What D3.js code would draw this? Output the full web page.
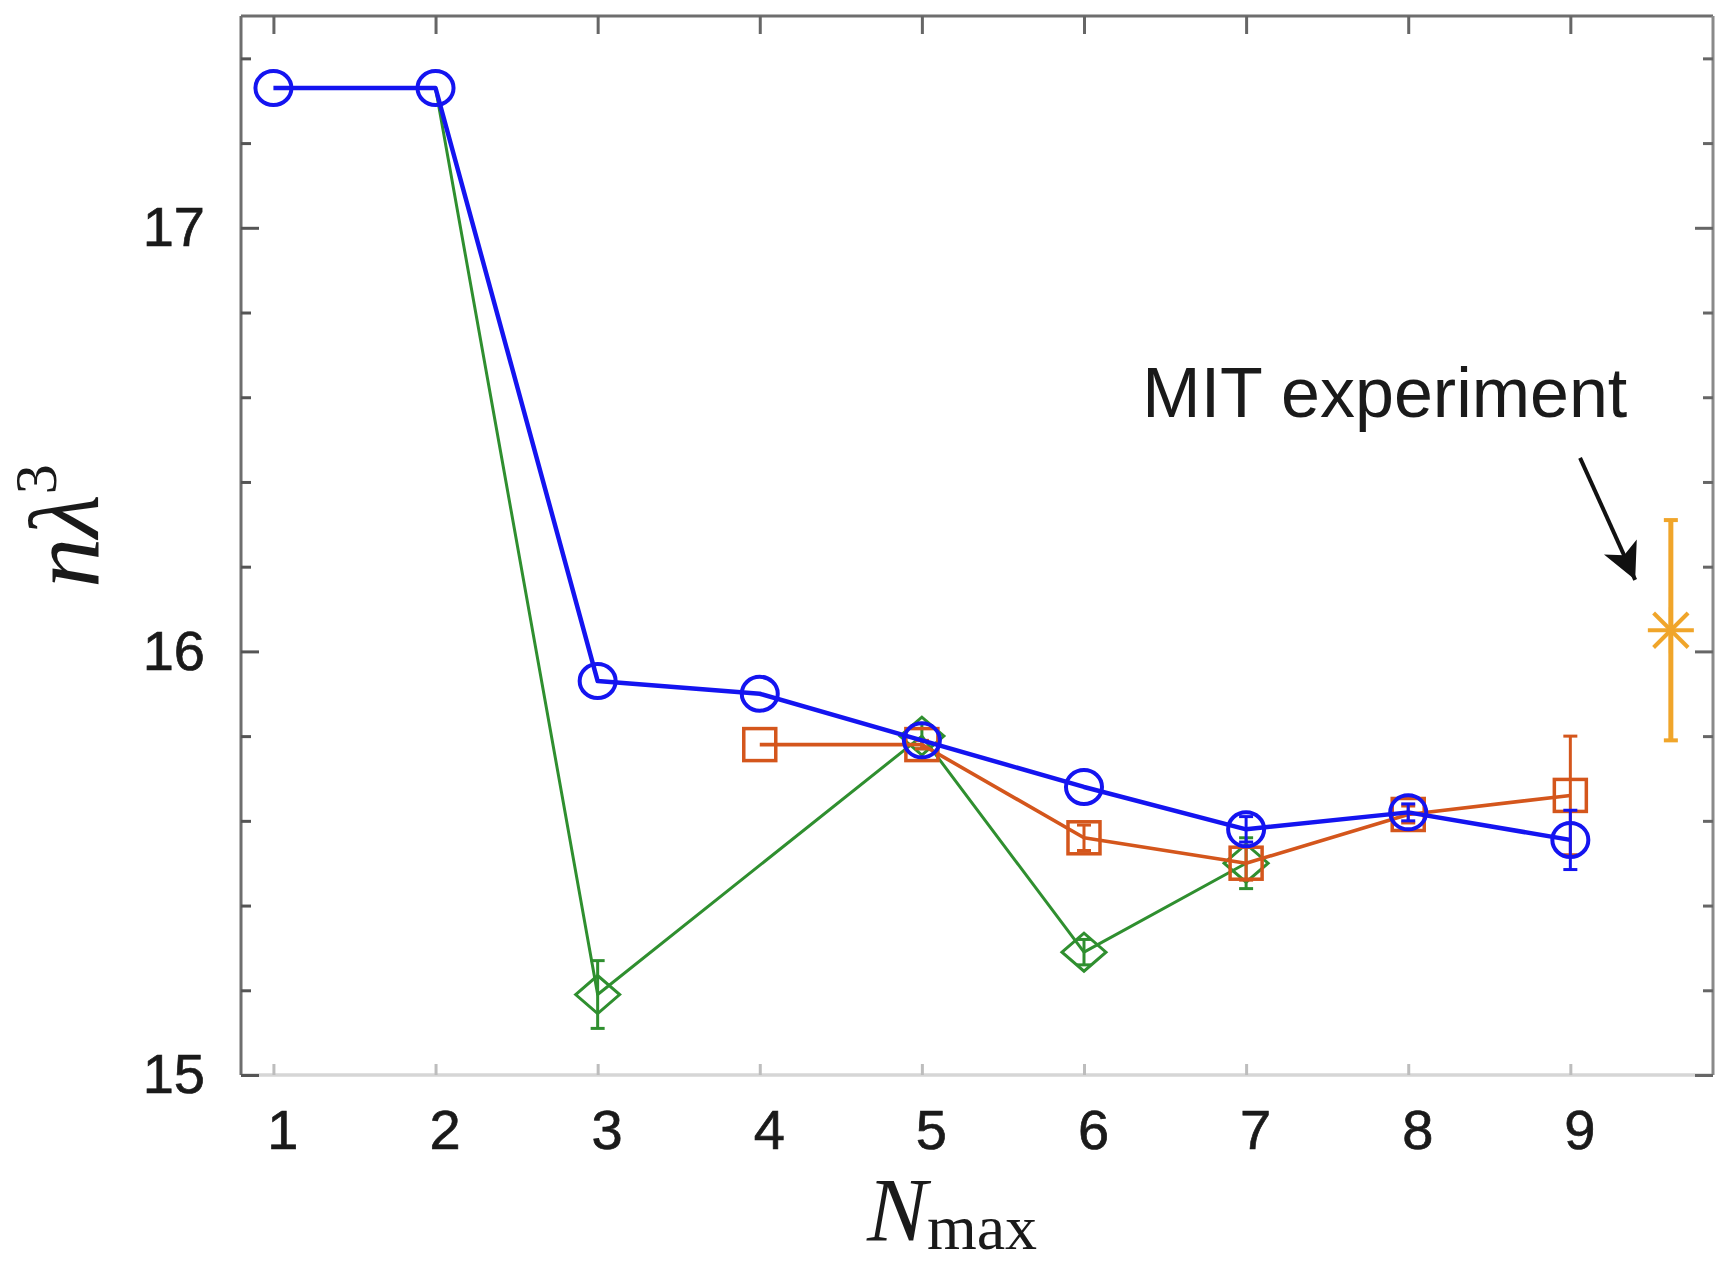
<!DOCTYPE html>
<html>
<head>
<meta charset="utf-8">
<script src="https://cdn.jsdelivr.net/npm/d3@7"></script>
<style>
  html, body { margin: 0; padding: 0; background: #fff; }
  svg { display: block; }
</style>
</head>
<body>
<svg id="chart" width="1717" height="1264"></svg>
<script>
// ---- data ----
const xTicks = [1, 2, 3, 4, 5, 6, 7, 8, 9];
const yTicks = [15, 16, 17];

const blueN    = [1, 2, 3, 4, 5, 6, 7, 8, 9];
const blueVals = [17.33, 17.33, 15.93, 15.90, 15.79, 15.68, 15.58, 15.62, 15.555];
const blueErr  = [0, 0, 0, 0, 0, 0, 0.03, 0.02, 0.07];

const orangeN    = [4, 5, 6, 7, 8, 9];
const orangeVals = [15.78, 15.78, 15.56, 15.50, 15.615, 15.66];
const orangeErr  = [0, 0.01, 0.03, 0.04, 0.02, 0.14];

const greenN      = [2, 3, 5, 6, 7];
const greenVals   = [17.33, 15.19, 15.80, 15.29, 15.50];
const greenErr    = [0, 0.08, 0.03, 0.03, 0.06];
const greenMarker = [false, true, true, true, true];

const mitN    = [9.62];
const mitVals = [16.05];
const mitErr  = [0.26];

const annText = "MIT experiment";
const annTextPos = [6.36, 16.553];
const annArrow = [[9.06, 16.457], [9.40, 16.169]];

// ---- layout ----
const svg = d3.select("#chart");
const L = 241, R = 1713, T = 16, B = 1075;
const x = d3.scaleLinear().domain([0.8, 9.88]).range([L, R]);
const y = d3.scaleLinear().domain([15, 17.5]).range([B, T]);

const C = { blue: "#1414f0", orange: "#d4561c", green: "#2f8f2f", gold: "#f0a52a" };

// frame
svg.append("line").attr("x1", L).attr("x2", R).attr("y1", B).attr("y2", B)
  .attr("stroke", "#d6d6d6").attr("stroke-width", 3.5);
svg.append("line").attr("x1", L).attr("x2", R).attr("y1", T).attr("y2", T)
  .attr("stroke", "#6e6e6e").attr("stroke-width", 3);
svg.append("line").attr("x1", L).attr("x2", L).attr("y1", T).attr("y2", B)
  .attr("stroke", "#6e6e6e").attr("stroke-width", 3);
svg.append("line").attr("x1", R).attr("x2", R).attr("y1", T).attr("y2", B)
  .attr("stroke", "#8a8a8a").attr("stroke-width", 3);

// axes via d3 axis generators
const fontSans = "'Liberation Sans', Arial, Helvetica, sans-serif";
const xAxis = svg.append("g").attr("transform", `translate(0,${B})`)
  .call(d3.axisBottom(x).tickValues(xTicks).tickSizeInner(-11).tickSizeOuter(0).tickPadding(34)
    .tickFormat(d3.format("d")));
xAxis.select(".domain").remove();
xAxis.selectAll(".tick line").attr("stroke", "#bdbdbd").attr("stroke-width", 3);
xAxis.selectAll(".tick text").attr("font-family", fontSans).attr("font-size", 56)
  .attr("fill", "#1a1a1a").attr("stroke", "#1a1a1a").attr("stroke-width", 0.7).attr("dx", 9);

const xTop = svg.append("g").attr("transform", `translate(0,${T})`)
  .call(d3.axisTop(x).tickValues(xTicks).tickSizeInner(-18).tickSizeOuter(0).tickFormat(""));
xTop.select(".domain").remove();
xTop.selectAll(".tick line").attr("stroke", "#666").attr("stroke-width", 3);

const minorY = d3.range(15.2, 17.5, 0.2).filter(v => Math.abs(v - Math.round(v)) > 0.01);
const yAxis = svg.append("g").attr("transform", `translate(${L},0)`)
  .call(d3.axisLeft(y).tickValues(yTicks).tickSizeInner(-18).tickSizeOuter(0).tickPadding(36)
    .tickFormat(d3.format("d")));
yAxis.select(".domain").remove();
yAxis.selectAll(".tick line").attr("stroke", "#555").attr("stroke-width", 3);
yAxis.selectAll(".tick text").attr("font-family", fontSans).attr("font-size", 56)
  .attr("fill", "#1a1a1a").attr("stroke", "#1a1a1a").attr("stroke-width", 0.7);
const yMinor = svg.append("g").attr("transform", `translate(${L},0)`)
  .call(d3.axisLeft(y).tickValues(minorY).tickSizeInner(-10).tickSizeOuter(0).tickFormat(""));
yMinor.select(".domain").remove();
yMinor.selectAll(".tick line").attr("stroke", "#555").attr("stroke-width", 3);

const yRight = svg.append("g").attr("transform", `translate(${R},0)`)
  .call(d3.axisRight(y).tickValues(yTicks).tickSizeInner(-18).tickSizeOuter(0).tickFormat(""));
yRight.select(".domain").remove();
yRight.selectAll(".tick line").attr("stroke", "#666").attr("stroke-width", 3);
const yRightMinor = svg.append("g").attr("transform", `translate(${R},0)`)
  .call(d3.axisRight(y).tickValues(minorY).tickSizeInner(-10).tickSizeOuter(0).tickFormat(""));
yRightMinor.select(".domain").remove();
yRightMinor.selectAll(".tick line").attr("stroke", "#666").attr("stroke-width", 3);

// helper for series
function drawSeries(ns, vals, errs, color, lw, marker, showMarker) {
  const pts = ns.map((n, i) => ({ n, v: vals[i], e: errs[i], m: showMarker ? showMarker[i] : true }));
  const g = svg.append("g");
  g.append("path").datum(pts)
    .attr("d", d3.line().x(d => x(d.n)).y(d => y(d.v)))
    .attr("fill", "none").attr("stroke", color).attr("stroke-width", lw)
    .attr("stroke-linejoin", "round");
  // error bars
  pts.filter(d => d.e > 0).forEach(d => {
    const cx = x(d.n), y1 = y(d.v + d.e), y2 = y(d.v - d.e);
    g.append("line").attr("x1", cx).attr("x2", cx).attr("y1", y1).attr("y2", y2)
      .attr("stroke", color).attr("stroke-width", 3);
    [y1, y2].forEach(yy => g.append("line").attr("x1", cx - 7).attr("x2", cx + 7)
      .attr("y1", yy).attr("y2", yy).attr("stroke", color).attr("stroke-width", 3));
  });
  pts.filter(d => d.m).forEach(d => {
    const cx = x(d.n), cy = y(d.v);
    if (marker === "circle") {
      g.append("ellipse").attr("cx", cx).attr("cy", cy).attr("rx", 18).attr("ry", 17)
        .attr("fill", "none").attr("stroke", color).attr("stroke-width", 4);
    } else if (marker === "square") {
      g.append("rect").attr("x", cx - 16).attr("y", cy - 16).attr("width", 32).attr("height", 32)
        .attr("fill", "none").attr("stroke", color).attr("stroke-width", 3.5);
    } else if (marker === "diamond") {
      g.append("path").attr("d", `M${cx - 22},${cy} L${cx},${cy - 19} L${cx + 22},${cy} L${cx},${cy + 19} Z`)
        .attr("fill", "none").attr("stroke", color).attr("stroke-width", 3);
    }
  });
}

drawSeries(greenN, greenVals, greenErr, C.green, 3, "diamond", greenMarker);
drawSeries(orangeN, orangeVals, orangeErr, C.orange, 3.6, "square");
drawSeries(blueN, blueVals, blueErr, C.blue, 4.5, "circle");

// MIT experiment point
mitN.forEach((n, i) => {
  const cx = x(n), cy = y(mitVals[i]);
  const y1 = y(mitVals[i] + mitErr[i]), y2 = y(mitVals[i] - mitErr[i]);
  svg.append("line").attr("x1", cx).attr("x2", cx).attr("y1", y1).attr("y2", y2)
    .attr("stroke", C.gold).attr("stroke-width", 5);
  [y1, y2].forEach(yy => svg.append("line").attr("x1", cx - 7).attr("x2", cx + 7)
    .attr("y1", yy).attr("y2", yy).attr("stroke", C.gold).attr("stroke-width", 4));
  const s = 23;
  [[-s, 0, s, 0], [0, -s, 0, s], [-s * 0.75, -s * 0.75, s * 0.75, s * 0.75], [-s * 0.75, s * 0.75, s * 0.75, -s * 0.75]]
    .forEach(([a, b, c, d]) => svg.append("line")
      .attr("x1", cx + a).attr("y1", cy + b).attr("x2", cx + c).attr("y2", cy + d)
      .attr("stroke", C.gold).attr("stroke-width", 4));
});

// annotation
svg.append("text").attr("x", x(annTextPos[0])).attr("y", y(annTextPos[1]))
  .attr("font-family", fontSans).attr("font-size", 70).attr("fill", "#1a1a1a")
  .text(annText);

svg.append("defs").append("marker").attr("id", "ah")
  .attr("viewBox", "0 0 10 10").attr("refX", 10).attr("refY", 5)
  .attr("markerWidth", 11).attr("markerHeight", 9).attr("markerUnits", "strokeWidth")
  .attr("orient", "auto")
  .append("path").attr("d", "M0,0 L10,5 L0,10 L2.5,5 Z").attr("fill", "#111");
svg.append("line")
  .attr("x1", x(annArrow[0][0])).attr("y1", y(annArrow[0][1]))
  .attr("x2", x(annArrow[1][0])).attr("y2", y(annArrow[1][1]))
  .attr("stroke", "#111").attr("stroke-width", 4).attr("marker-end", "url(#ah)");

// axis titles
const xt = svg.append("text").attr("x", 952).attr("y", 1241).attr("text-anchor", "middle")
  .attr("font-family", "'Liberation Serif', serif").attr("fill", "#1a1a1a");
xt.append("tspan").attr("font-style", "italic").attr("font-size", 90).text("N");
xt.append("tspan").attr("font-size", 64).attr("dy", 8).text("max");

const yt = svg.append("text").attr("transform", "translate(98,526) rotate(-90)")
  .attr("text-anchor", "middle")
  .attr("font-family", "'Liberation Serif', serif").attr("fill", "#1a1a1a");
yt.append("tspan").attr("font-style", "italic").attr("font-size", 100).text("nλ");
yt.append("tspan").attr("font-size", 60).attr("dy", -42).text("3");
</script>
</body>
</html>
